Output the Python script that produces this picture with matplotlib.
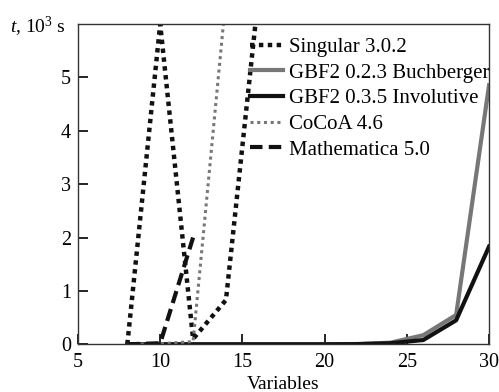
import matplotlib
matplotlib.use('Agg')
import matplotlib.pyplot as plt

plt.rcParams['font.family'] = ['Liberation Serif', 'DejaVu Serif']
plt.rcParams['mathtext.fontset'] = 'custom'
plt.rcParams['mathtext.rm'] = 'Liberation Serif'
plt.rcParams['mathtext.it'] = 'Liberation Serif:italic'

# Data (time in 10^3 s)
singular_x = [8, 10, 12, 14, 16]
singular_t = [0.0, 6.0, 0.1, 0.83, 6.6]

gbf_x = [8, 10, 12, 14, 16, 18, 20, 22, 24, 26, 28, 30]
buchberger_t = [0, 0, 0, 0, 0, 0, 0, 0.005, 0.03, 0.17, 0.55, 4.85]
involutive_t = [0, 0, 0, 0, 0, 0, 0, 0.003, 0.02, 0.08, 0.45, 1.83]

cocoa_x = [8, 10, 12, 14]
cocoa_t = [0.0, 0.01, 0.05, 6.5]

mathematica_x = [8, 10, 12]
mathematica_t = [0.0, 0.02, 2.0]

labels = ['Singular 3.0.2', 'GBF2 0.2.3 Buchberger', 'GBF2 0.3.5 Involutive',
          'CoCoA 4.6', 'Mathematica 5.0']

fig = plt.figure(figsize=(4.99, 3.92), dpi=100)
ax = fig.add_axes([0.1563, 0.1217, 0.8237, 0.8171])

ax.plot(singular_x, singular_t, color='#111111', lw=3.2, ls=(0, (1, 1)),
        dash_capstyle='butt', label=labels[0])
ax.plot(gbf_x, buchberger_t, color='#777777', lw=3.0, label=labels[1])
ax.plot(gbf_x, involutive_t, color='#111111', lw=3.0, label=labels[2])
ax.plot(cocoa_x, cocoa_t, color='#777777', lw=2.2, ls=(0, (1, 1.2)),
        dash_capstyle='butt', label=labels[3])
ax.plot(mathematica_x, mathematica_t, color='#111111', lw=3.0, ls=(0, (3, 1.5)),
        dash_capstyle='butt', label=labels[4])

ax.set_xlim(5, 30)
ax.set_ylim(0, 6)
ax.set_xticks([5, 10, 15, 20, 25, 30])
ax.set_yticks([0, 1, 2, 3, 4, 5])
ax.tick_params(direction='in', length=7, width=1.2, labelsize=14.5)
ax.tick_params(axis='x', pad=6)
ax.tick_params(axis='y', pad=5)
for s in ax.spines.values():
    s.set_linewidth(1.0)
    s.set_color('#333333')

ax.set_xlabel('Variables', fontsize=14, labelpad=3)
fig.text(0.02, 0.915, r'$t$, 10$^3$ s', fontsize=14, ha='left', va='baseline')

ax.legend(loc='upper left', bbox_to_anchor=(0.418, 0.958), frameon=False,
          fontsize=15, handlelength=1.6, handletextpad=0.3, labelspacing=0.29,
          borderaxespad=0, borderpad=0)

fig.savefig('out.png', dpi=100)
